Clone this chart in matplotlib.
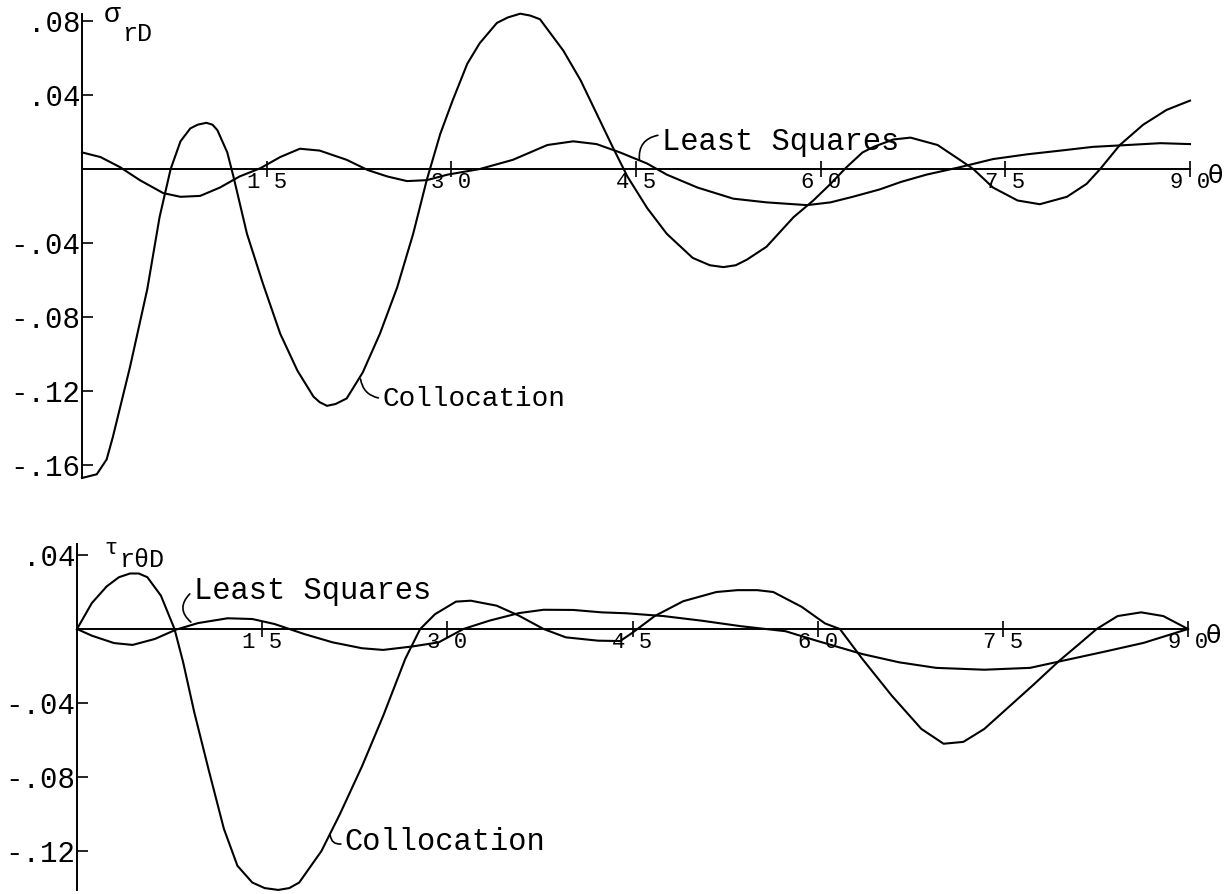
import matplotlib
matplotlib.use('Agg')
import matplotlib.pyplot as plt

plt.rcParams['font.family'] = ['Liberation Mono', 'DejaVu Sans Mono']

# sigma_rD along the boundary, theta in degrees
theta_sig_col = [0.0, 1.2, 2.0, 2.5, 3.9, 5.3, 6.3, 7.2, 8.0, 8.8, 9.4, 10.1, 10.6, 11.0,
                 11.8, 12.3, 13.4, 14.7, 16.1, 17.5, 18.8, 19.3, 19.9, 20.6, 21.5, 22.8,
                 24.2, 25.6, 26.9, 28.0, 29.1, 30.1, 31.3, 32.3, 33.7, 34.6, 35.6, 36.4,
                 37.2, 39.1, 40.5, 41.8, 43.1, 44.3, 45.9, 47.5, 49.6, 51.0, 52.1, 53.1,
                 54.0, 55.6, 57.8, 59.4, 60.8, 62.1, 63.4, 64.3, 65.9, 67.3, 69.5, 71.3,
                 72.4, 74.0, 76.0, 77.8, 80.0, 81.6, 82.7, 84.3, 86.2, 88.1, 90.0]
sig_col = [-0.167, -0.165, -0.157, -0.145, -0.107, -0.065, -0.026, 0.000, 0.015, 0.022,
           0.024, 0.025, 0.024, 0.021, 0.009, -0.004, -0.035, -0.062, -0.089, -0.109,
           -0.123, -0.126, -0.128, -0.127, -0.124, -0.110, -0.089, -0.064, -0.035, -0.006,
           0.019, 0.037, 0.057, 0.068, 0.079, 0.082, 0.084, 0.083, 0.081, 0.064, 0.048,
           0.030, 0.012, -0.004, -0.021, -0.035, -0.048, -0.052, -0.053, -0.052, -0.049,
           -0.042, -0.026, -0.017, -0.008, 0.001, 0.009, 0.012, 0.016, 0.017, 0.013,
           0.005, 0.000, -0.010, -0.017, -0.019, -0.015, -0.008, 0.000, 0.013, 0.024,
           0.032, 0.037]

theta_sig_ls = [0.0, 1.5, 3.1, 4.7, 6.6, 8.0, 9.6, 11.2, 12.8, 14.5, 16.1, 17.7, 19.3,
                21.5, 23.2, 24.8, 26.4, 28.0, 29.7, 32.3, 35.0, 37.8, 39.9, 41.8, 43.7,
                45.9, 47.5, 50.0, 52.9, 55.6, 58.9, 60.8, 62.6, 64.8, 66.5, 68.6, 71.3,
                74.0, 76.8, 79.5, 82.1, 84.9, 87.6, 90.0]
sig_ls = [0.009, 0.0065, 0.001, -0.006, -0.013, -0.015, -0.0145, -0.010, -0.004, 0.0005,
          0.0065, 0.011, 0.010, 0.005, -0.0005, -0.004, -0.0065, -0.006, -0.003, 0.000,
          0.005, 0.013, 0.015, 0.0135, 0.009, 0.003, -0.003, -0.010, -0.016, -0.018,
          -0.0195, -0.018, -0.015, -0.011, -0.007, -0.003, 0.001, 0.0054, 0.008, 0.010,
          0.012, 0.013, 0.014, 0.0135]

# tau_rthetaD along the boundary
theta_tau_col = [0.0, 1.2, 2.4, 3.4, 4.3, 5.0, 5.7, 6.8, 7.9, 8.6, 9.5, 10.7, 11.9, 13.0,
                 14.2, 15.2, 16.3, 17.2, 18.0, 19.8, 21.3, 23.1, 24.8, 26.6, 27.8, 29.0,
                 30.7, 31.9, 34.0, 35.8, 37.8, 39.6, 42.2, 44.0, 45.0, 46.8, 49.1, 51.8,
                 53.5, 55.1, 56.4, 58.7, 60.6, 61.8, 63.6, 66.0, 68.4, 70.2, 71.8, 73.5,
                 75.5, 77.5, 79.6, 81.2, 82.6, 84.3, 86.2, 88.0, 90.0]
tau_col = [0.000, 0.014, 0.023, 0.028, 0.030, 0.030, 0.028, 0.018, 0.000, -0.018, -0.045,
           -0.077, -0.108, -0.128, -0.137, -0.140, -0.141, -0.140, -0.137, -0.120, -0.100,
           -0.074, -0.047, -0.016, 0.000, 0.008, 0.0148, 0.0153, 0.0126, 0.0072, 0.000,
           -0.0045, -0.0063, -0.0065, -0.002, 0.007, 0.015, 0.020, 0.021, 0.021, 0.020,
           0.012, 0.003, 0.000, -0.016, -0.036, -0.054, -0.062, -0.061, -0.054, -0.042,
           -0.030, -0.017, -0.008, 0.000, 0.007, 0.009, 0.007, 0.000]

theta_tau_ls = [0.0, 1.2, 3.0, 4.5, 6.3, 8.0, 9.8, 12.2, 14.2, 16.0, 18.4, 20.7, 23.1,
                24.8, 27.2, 29.3, 31.3, 33.4, 35.8, 37.8, 40.2, 42.5, 44.5, 47.5, 50.6,
                53.8, 57.4, 60.0, 63.6, 66.6, 69.6, 73.5, 77.2, 80.3, 83.4, 86.4, 90.0]
tau_ls = [0.000, -0.0036, -0.0076, -0.0086, -0.0054, -0.0004, 0.0032, 0.0058, 0.0054,
          0.0027, -0.0027, -0.0072, -0.0104, -0.0113, -0.0094, -0.0072, 0.000, 0.0045,
          0.0086, 0.0104, 0.0103, 0.0090, 0.0085, 0.0070, 0.0045, 0.0015, -0.0012,
          -0.0065, -0.0135, -0.018, -0.021, -0.022, -0.021, -0.0165, -0.012, -0.0075,
          0.000]

x_ticks = [15, 30, 45, 60, 75, 90]
x_tick_labels = ['1 5', '3 0', '4 5', '6 0', '7 5', '9 0']
sig_ticks = [0.08, 0.04, -0.04, -0.08, -0.12, -0.16]
sig_tick_labels = ['.08', '.04', '-.04', '-.08', '-.12', '-.16']
tau_ticks = [0.04, -0.04, -0.08, -0.12]
tau_tick_labels = ['.04', '-.04', '-.08', '-.12']

W, H = 1227, 894
fig = plt.figure(figsize=(W / 100, H / 100), dpi=100)
fig.patch.set_facecolor('white')


def px_axes(x0, x1, y0, y1):
    # axes box given in figure pixels, y measured from the top
    ax = fig.add_axes([x0 / W, 1 - y1 / H, (x1 - x0) / W, (y1 - y0) / H])
    ax.patch.set_alpha(0)
    return ax


def style_axes(ax, ylim, ybounds, yticks, ylabels):
    ax.set_xlim(0, 90)
    ax.set_ylim(*ylim)
    ax.spines['top'].set_visible(False)
    ax.spines['right'].set_visible(False)
    ax.spines['left'].set_position(('data', 0))
    ax.spines['bottom'].set_position(('data', 0))
    ax.spines['left'].set_bounds(*ybounds)
    ax.spines['bottom'].set_bounds(0, 90)
    for s in ['left', 'bottom']:
        ax.spines[s].set_linewidth(1.4)
    ax.set_xticks(x_ticks)
    ax.set_xticklabels(x_tick_labels, fontsize=16)
    ax.set_yticks(yticks)
    ax.set_yticklabels(ylabels, fontsize=21)
    ax.tick_params(axis='x', direction='inout', length=12, width=1.2, pad=-4)
    ax.tick_params(axis='y', direction='in', length=8, width=1.2, pad=1)
    ax.annotate('θ', xy=(90, 0), xytext=(18, -7), textcoords='offset pixels',
                fontsize=18, va='center', ha='left', family='DejaVu Sans')


def leader(ax, a, b, rad):
    ax.annotate('', xy=a, xytext=b,
                arrowprops=dict(arrowstyle='-', lw=1.2, color='black',
                                connectionstyle='arc3,rad=%s' % rad))


# upper plot: normal stress
ax1 = px_axes(82, 1190, 0, 490)
style_axes(ax1, (-0.1735, 0.0914), (-0.167, 0.084), sig_ticks, sig_tick_labels)
ax1.plot(theta_sig_col, sig_col, color='black', lw=1.5, clip_on=False)
ax1.plot(theta_sig_ls, sig_ls, color='black', lw=1.5, clip_on=False)
ax1.text(47.1, 0.0145, 'Least Squares', fontsize=22, ha='left', va='center')
leader(ax1, (45.3, 0.0035), (47.0, 0.0185), 0.5)
ax1.text(24.4, -0.1245, 'Collocation', fontsize=20, ha='left', va='center')
leader(ax1, (22.6, -0.112), (24.3, -0.124), -0.4)

# lower plot: shear stress
ax2 = px_axes(77, 1188, 540, 894)
style_axes(ax2, (-0.1432, 0.0481), (-0.141, 0.046), tau_ticks, tau_tick_labels)
ax2.plot(theta_tau_col, tau_col, color='black', lw=1.5, clip_on=False)
ax2.plot(theta_tau_ls, tau_ls, color='black', lw=1.5, clip_on=False)
ax2.text(9.5, 0.0205, 'Least Squares', fontsize=22, ha='left', va='center')
leader(ax2, (9.4, 0.0028), (9.3, 0.020), 0.6)
ax2.text(21.7, -0.115, 'Collocation', fontsize=22, ha='left', va='center')
leader(ax2, (20.5, -0.110), (21.6, -0.116), -0.6)

# axis titles
fig.text(104 / W, 1 - 15 / H, 'σ', fontsize=20, ha='left', va='center')
fig.text(122 / W, 1 - 34 / H, 'rD', fontsize=18, ha='left', va='center')
fig.text(104 / W, 1 - 549 / H, 'τ', fontsize=16, ha='left', va='center')
fig.text(119 / W, 1 - 560 / H, 'rθD', fontsize=18, ha='left', va='center')

fig.savefig('out.png', dpi=100)
